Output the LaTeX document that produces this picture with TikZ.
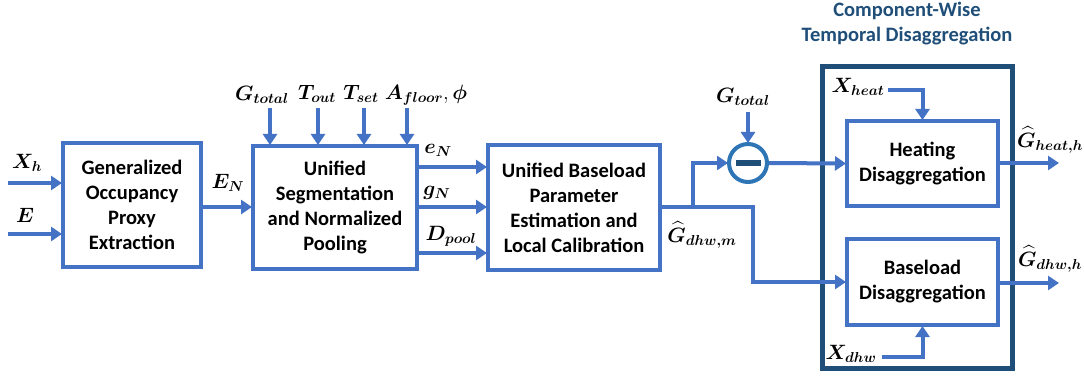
\documentclass[tikz,border=0pt]{standalone}
\usepackage{amsmath}
\usepackage{bm}
\usepackage{fontspec}
\setsansfont{Carlito}
\usetikzlibrary{arrows.meta,calc}
\definecolor{lblue}{HTML}{4472C4}
\definecolor{navy}{HTML}{1F4E79}
\definecolor{cblue}{HTML}{2E75B6}
\tikzset{
  blk/.style={draw=lblue,line width=4pt,fill=white,align=center,font=\sffamily\bfseries\fontsize{20.5}{25}\selectfont,inner sep=0pt},
  arr/.style={draw=lblue,line width=4pt,-{Triangle[length=11pt,width=14pt]},shorten >=-1pt},
  ln/.style={draw=lblue,line width=4pt},
  lbl/.style={font=\fontsize{20}{22}\selectfont,inner sep=0pt},
}
\begin{document}
\begin{tikzpicture}[x=1pt,y=-1pt]
\useasboundingbox (0,0) rectangle (1084,377);
% outer box
\node[draw=navy,line width=5pt,minimum width=190pt,minimum height=301pt] (outer) at (917,217.5) {};
\node[font=\sffamily\bfseries\fontsize{20.5}{25}\selectfont,text=navy,align=center] (title) at (907,24) {Component-Wise\\Temporal Disaggregation};
% blocks
\node[blk,minimum width=138pt,minimum height=124pt] (b1) at (132,205) {Generalized\\Occupancy\\Proxy\\Extraction};
\node[blk,minimum width=164pt,minimum height=123pt] (b2) at (335,207.5) {Unified\\Segmentation\\and Normalized\\Pooling};
\node[blk,minimum width=172pt,minimum height=125pt] (b3) at (574,207.5) {Unified Baseload\\Parameter\\Estimation and\\Local Calibration};
\node[blk,minimum width=151pt,minimum height=85pt] (heat) at (922.5,163.5) {Heating\\Disaggregation};
\node[blk,minimum width=151pt,minimum height=86pt] (base) at (922.5,282) {Baseload\\Disaggregation};
% subtractor
\node[draw=cblue,line width=4pt,circle,minimum size=38pt,inner sep=0pt] (sub) at (748,163) {};
\fill[navy] ($(sub.center)+(-12.5,-3)$) rectangle ($(sub.center)+(12.5,3)$);
% inputs to b1
\coordinate (xh) at (8,183);
\coordinate (e) at (8,234);
\draw[arr] (xh) -- (xh -| b1.west);
\draw[arr] (e) -- (e -| b1.west);
\node[lbl] (lxh) at (27,163) {$\bm{X_h}$};
\node[lbl] (le) at (25,215) {$\bm{E}$};
% b1 -> b2
\draw[arr] (b1.east |- 0,207) -- (b2.west |- 0,207);
\node[lbl] (len) at (228,183) {$\bm{E_N}$};
% top inputs b2
\foreach \xx/\nm in {270/g,318/to,364/ts,407/af}{
  \coordinate (t\nm) at (\xx,108);
  \draw[arr] (t\nm) -- (t\nm |- b2.north);
}
\node[lbl] (lg) at (262,95) {$\bm{G_{total}}$};
\node[lbl] (lto) at (317,94) {$\bm{T_{out}}$};
\node[lbl] (lts) at (361,94) {$\bm{T_{set}}$};
\node[lbl] (laf) at (426,95) {$\bm{A_{floor}},\bm{\phi}$};
% b2 -> b3
\foreach \yy in {167,207,253}{
  \draw[arr] (b2.east |- 0,\yy) -- (b3.west |- 0,\yy);
}
\node[lbl] (leN) at (438,150) {$\bm{e_N}$};
\node[lbl] (lgN) at (437,193) {$\bm{g_N}$};
\node[lbl] (lDp) at (451,236) {$\bm{D_{pool}}$};
% b3 output
\coordinate (j) at (693,207);
\coordinate (j2) at (753,207);
\draw[ln] (b3.east |- j) -- (j);
\draw[arr] (j) |- (sub.west);
\draw[arr] (j) -- (j2) |- (base.west);
\node[lbl] (lgm) at (702,235) {$\bm{\widehat{G}_{dhw,m}}$};
% G_total into subtractor
\coordinate (gt) at (748,112);
\draw[arr] (gt) -- (sub.north);
\node[lbl] (lgt) at (743,97) {$\bm{G_{total}}$};
% subtractor -> heating
\draw[arr] (sub.east) -- (heat.west);
% X_heat
\coordinate (xhe) at (888,90);
\draw[arr] (xhe) -| (heat.north);
\node[lbl] (lxhe) at (858,87) {$\bm{X_{heat}}$};
% X_dhw
\coordinate (xd) at (882,357);
\draw[arr] (xd) -| (base.south);
\node[lbl] (lxd) at (851,354) {$\bm{X_{dhw}}$};
% outputs
\coordinate (oh) at (1058,163);
\coordinate (od) at (1058,283);
\draw[arr] (heat.east |- oh) -- (oh);
\draw[arr] (base.east |- od) -- (od);
\node[lbl] (loh) at (1050,140) {$\bm{\widehat{G}_{heat,h}}$};
\node[lbl] (lod) at (1050,259) {$\bm{\widehat{G}_{dhw,h}}$};
\end{tikzpicture}
\end{document}
